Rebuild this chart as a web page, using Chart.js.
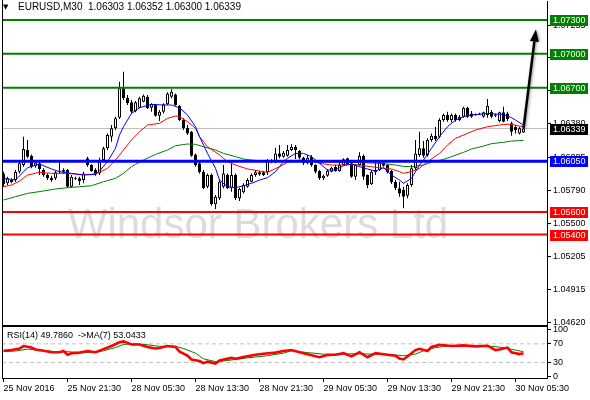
<!DOCTYPE html>
<html><head><meta charset="utf-8">
<script src="https://cdn.jsdelivr.net/npm/chart.js@4.4.1/dist/chart.umd.min.js"></script>
<style>
html,body{margin:0;padding:0;background:#fff;}
#wrap{position:relative;width:590px;height:400px;overflow:hidden;background:#fff;}
canvas{position:absolute;left:0;}
#main{top:0;}
#rsi{top:318px;}
</style></head><body>
<div id="wrap"><canvas id="main" width="590" height="326"></canvas><canvas id="rsi" width="590" height="82"></canvas></div>
<script>
// ---------------- DATA ----------------
const SYMBOL = 'EURUSD,M30';
const LAST_OHLC = ['1.06303', '1.06352', '1.06300', '1.06339'];
const OPEN = [1.05942,1.05854,1.05883,1.05883,1.05957,1.06016,1.06149,1.06099,1.06007,1.06031,1.05972,1.05927,1.05904,1.05898,1.05963,1.05957,1.05972,1.05824,1.05898,1.05898,1.05883,1.06075,1.06016,1.05972,1.05942,1.06060,1.06164,1.06267,1.06341,1.06435,1.06695,1.06612,1.06571,1.06494,1.06523,1.06577,1.06621,1.06523,1.06547,1.06453,1.06488,1.06553,1.06621,1.06641,1.06541,1.06414,1.06346,1.06311,1.06110,1.06031,1.05957,1.05824,1.05927,1.05668,1.05721,1.05824,1.05927,1.05810,1.05927,1.05721,1.05774,1.05824,1.05868,1.05927,1.05951,1.05951,1.05951,1.06051,1.06046,1.06119,1.06090,1.06099,1.06149,1.06178,1.06140,1.06081,1.06031,1.06090,1.06016,1.05963,1.05898,1.05922,1.05957,1.06001,1.05963,1.06016,1.06075,1.06031,1.05913,1.06016,1.06099,1.05927,1.05845,1.05951,1.05972,1.06040,1.06016,1.05963,1.05868,1.05810,1.05795,1.05745,1.05839,1.05987,1.06105,1.06164,1.06105,1.06237,1.06276,1.06267,1.06414,1.06459,1.06414,1.06459,1.06414,1.06444,1.06523,1.06473,1.06464,1.06464,1.06444,1.06459,1.06488,1.06459,1.06405,1.06482,1.06473,1.06385,1.06355,1.06296,1.06303];
const HIGH = [1.05957,1.05913,1.05898,1.05972,1.06046,1.06267,1.06237,1.06110,1.06060,1.06046,1.05987,1.05942,1.05922,1.05963,1.06054,1.05987,1.05981,1.05927,1.05913,1.05913,1.05957,1.06090,1.06022,1.05987,1.06081,1.06178,1.06296,1.06370,1.06444,1.06754,1.06842,1.06636,1.06591,1.06582,1.06621,1.06641,1.06636,1.06562,1.06553,1.06503,1.06562,1.06659,1.06686,1.06650,1.06547,1.06429,1.06370,1.06317,1.06119,1.06046,1.05972,1.05942,1.05942,1.05751,1.05883,1.06016,1.05942,1.06031,1.05942,1.05815,1.05854,1.05898,1.05942,1.05972,1.05963,1.05963,1.06069,1.06066,1.06169,1.06193,1.06140,1.06193,1.06199,1.06193,1.06149,1.06090,1.06105,1.06105,1.06022,1.05972,1.05933,1.05981,1.06001,1.06016,1.06046,1.06075,1.06081,1.06040,1.06022,1.06128,1.06110,1.05933,1.05972,1.06046,1.06051,1.06060,1.06022,1.05972,1.05883,1.05868,1.05824,1.05854,1.06016,1.06237,1.06311,1.06228,1.06252,1.06296,1.06355,1.06429,1.06473,1.06488,1.06473,1.06473,1.06459,1.06532,1.06532,1.06494,1.06473,1.06479,1.06488,1.06600,1.06503,1.06473,1.06488,1.06532,1.06488,1.06400,1.06370,1.06355,1.06352];
const LOW = [1.05824,1.05839,1.05854,1.05868,1.05942,1.06001,1.06075,1.05987,1.05992,1.05927,1.05913,1.05883,1.05868,1.05883,1.05942,1.05942,1.05815,1.05815,1.05883,1.05839,1.05854,1.06001,1.05957,1.05922,1.05927,1.06046,1.06149,1.06223,1.06326,1.06423,1.06591,1.06547,1.06473,1.06482,1.06518,1.06571,1.06512,1.06488,1.06444,1.06405,1.06473,1.06547,1.06606,1.06541,1.06405,1.06326,1.06282,1.06090,1.06001,1.05942,1.05804,1.05810,1.05656,1.05627,1.05706,1.05810,1.05804,1.05780,1.05706,1.05697,1.05765,1.05815,1.05863,1.05913,1.05922,1.05919,1.05927,1.06031,1.06031,1.06075,1.06081,1.06090,1.06140,1.06069,1.06069,1.06016,1.06022,1.06001,1.05942,1.05883,1.05883,1.05913,1.05951,1.05957,1.05957,1.06010,1.06016,1.05904,1.05883,1.06010,1.05883,1.05810,1.05839,1.05927,1.05963,1.06001,1.05942,1.05848,1.05795,1.05736,1.05633,1.05721,1.05824,1.05972,1.06090,1.06081,1.06090,1.06223,1.06228,1.06252,1.06400,1.06400,1.06394,1.06400,1.06405,1.06435,1.06435,1.06435,1.06453,1.06459,1.06435,1.06435,1.06429,1.06441,1.06394,1.06394,1.06405,1.06276,1.06296,1.06287,1.06300];
const CLOSE = [1.05845,1.05898,1.05863,1.05957,1.06031,1.06158,1.06090,1.06001,1.06037,1.05981,1.05927,1.05898,1.05883,1.05951,1.05957,1.05972,1.05824,1.05913,1.05895,1.05874,1.05942,1.06016,1.05963,1.05933,1.06060,1.06164,1.06282,1.06341,1.06429,1.06695,1.06606,1.06562,1.06488,1.06571,1.06606,1.06630,1.06518,1.06553,1.06453,1.06488,1.06553,1.06650,1.06665,1.06547,1.06414,1.06341,1.06296,1.06099,1.06016,1.05951,1.05810,1.05927,1.05668,1.05736,1.05868,1.05942,1.05810,1.05927,1.05721,1.05804,1.05839,1.05883,1.05927,1.05951,1.05933,1.05927,1.06060,1.06040,1.06119,1.06090,1.06125,1.06149,1.06178,1.06149,1.06081,1.06031,1.06081,1.06016,1.05957,1.05898,1.05922,1.05966,1.05992,1.05963,1.06016,1.06066,1.06022,1.05913,1.06016,1.06096,1.05913,1.05839,1.05957,1.05972,1.06040,1.06010,1.05951,1.05863,1.05810,1.05765,1.05736,1.05839,1.05987,1.06119,1.06164,1.06099,1.06237,1.06276,1.06246,1.06414,1.06459,1.06414,1.06459,1.06414,1.06444,1.06523,1.06444,1.06444,1.06461,1.06470,1.06482,1.06541,1.06444,1.06453,1.06482,1.06400,1.06423,1.06311,1.06326,1.06341,1.06339];

const MA_FAST_BARS = [0,3,6,9,12,14,17,20,23,24,26,28,29,30,32,34,37,40,42,44,46,48,49,51,53,54,56,58,60,62,64,66,68,70,71,73,75,77,79,81,83,85,87,89,91,93,95,97,99,100,102,104,105,107,109,111,113,115,117,119,121,123,125,127,128,130];
const MA_FAST = [1.05898,1.05883,1.05992,1.06025,1.05981,1.05957,1.05942,1.05927,1.05933,1.05963,1.06046,1.06164,1.06282,1.06355,1.06473,1.06523,1.06553,1.06547,1.06547,1.06523,1.06459,1.06355,1.06267,1.06119,1.05987,1.05883,1.05824,1.05815,1.05833,1.05854,1.05883,1.05904,1.05957,1.06046,1.06075,1.06119,1.06119,1.06090,1.06031,1.05972,1.05972,1.06010,1.06025,1.06001,1.05981,1.05963,1.05992,1.05927,1.05883,1.05854,1.05898,1.06016,1.06060,1.06164,1.06267,1.06355,1.06414,1.06444,1.06459,1.06464,1.06473,1.06467,1.06464,1.06435,1.06414,1.06370];
const MA_MID_BARS = [0,2,4,6,9,12,16,19,22,24,26,28,30,32,34,36,39,41,43,44,46,48,49,51,54,56,58,61,64,66,69,71,74,77,79,82,84,87,89,92,94,97,99,100,102,104,106,109,111,113,116,118,121,124,125,127,129,130];
const MA_MID = [1.05824,1.05839,1.05874,1.05927,1.05951,1.05942,1.05942,1.05933,1.05933,1.05951,1.05987,1.06060,1.06149,1.06237,1.06311,1.06370,1.06385,1.06429,1.06450,1.06444,1.06400,1.06341,1.06267,1.06178,1.06105,1.06046,1.06016,1.05981,1.05963,1.05951,1.06001,1.06040,1.06060,1.06054,1.06031,1.06016,1.06016,1.06022,1.06016,1.06001,1.05992,1.05981,1.05957,1.05942,1.05957,1.05987,1.06046,1.06119,1.06193,1.06252,1.06296,1.06326,1.06355,1.06370,1.06376,1.06376,1.06361,1.06355];
const MA_SLOW_BARS = [0,3,6,10,13,16,19,22,25,28,30,32,33,35,38,41,43,46,48,50,53,55,58,60,62,65,70,75,80,85,90,95,98,100,102,105,107,110,112,115,117,120,122,125,127,130];
const MA_SLOW = [1.05706,1.05736,1.05765,1.05786,1.05804,1.05815,1.05824,1.05833,1.05868,1.05898,1.05942,1.06001,1.06022,1.06060,1.06110,1.06149,1.06187,1.06202,1.06199,1.06178,1.06149,1.06119,1.06090,1.06069,1.06060,1.06051,1.06046,1.06046,1.06043,1.06040,1.06037,1.06028,1.06016,1.06004,1.06001,1.06016,1.06040,1.06066,1.06090,1.06128,1.06158,1.06184,1.06205,1.06217,1.06228,1.06234];

const RSI_BARS = [0,2,4,5,7,8,10,12,14,15,16,17,19,21,23,25,27,29,30,32,34,36,38,39,41,43,44,46,47,49,50,51,53,54,55,57,58,60,63,65,68,70,72,74,76,79,81,83,85,87,89,91,93,96,98,99,100,102,103,104,106,107,109,112,115,118,121,123,124,126,127,129,130];
const RSI = [55.3,56.7,60,65.3,62,58,55.3,52,52,54.7,46.7,50,51.3,54.7,52,58.7,65.3,73.3,75.3,68.7,68.7,63.3,60,61.3,65.3,63.3,53.3,44.7,36.7,33.3,28.7,32,28,34.7,36.7,40,38,42,46.7,48.7,51.3,54.7,56.7,52,48,41.3,46,46.7,50,43.3,52,41.3,50,46.7,44.7,38.7,36.7,50,56.7,59.3,54.7,63.3,68,65.3,66.7,64.7,66,56.7,58,62,52,48,49.8];
const RSI_MA_BARS = [0,3,6,9,13,16,19,23,25,28,30,33,36,39,43,45,48,50,53,55,58,61,66,70,72,74,76,80,84,88,93,97,100,103,105,108,112,115,118,122,125,128,130];
const RSI_MA = [53.3,54.7,58.7,56.7,53.3,53.3,51.3,51.3,55.3,62,68.7,70,68,64.7,64.7,60,50,38,32,33.3,36.7,40,44.7,50,55.3,53.3,51.3,48,48,48.7,48,46.7,44.7,48,55.3,62,66,66,65.3,64.7,62,56.7,53];

const LEVELS_GREEN = [1.07300, 1.07000, 1.06700];
const LEVELS_BLUE = [1.06050];
const LEVELS_RED = [1.05600, 1.05400];
const BID = 1.06339;
const PRICE_TICKS = [1.04620, 1.04915, 1.05205, 1.05500, 1.05790, 1.06085, 1.06380, 1.06675, 1.06965, 1.07255];
const PRICE_TICK_LABELS = ['1.04620','1.04915','1.05205','1.05500','1.05790','1.06085','1.06380','1.06675','1.06965','1.07255'];
const TIME_TICKS = [0, 16, 32, 48, 64, 80, 96, 112, 128];
const TIME_LABELS = ['25 Nov 2016','25 Nov 21:30','28 Nov 05:30','28 Nov 13:30','28 Nov 21:30','29 Nov 05:30','29 Nov 13:30','29 Nov 21:30','30 Nov 05:30'];
const RSI_TICKS = [0, 30, 70, 100];
const RSI_LEVELS = [30, 70];
const RSI_TITLE = 'RSI(14) 49.7860  ->MA(7) 53.0433';
const ARROW_FROM = [130, 1.06339];
const ARROW_TO = [133.1, 1.07215];
const WATERMARK = 'Windsor Brokers Ltd';

// ---------------- SETUP ----------------
const FONT = "'Liberation Sans', Arial, sans-serif";
Chart.defaults.font.family = FONT;
Chart.defaults.font.size = 9;
Chart.defaults.color = '#000';
const X_MIN = -0.375, X_MAX = 135.875;
const Y_MIN = 1.04600, Y_MAX = 1.04600 + 324 / 11298;

const bodyData = OPEN.map((o, i) => ({ x: i, y: [o, CLOSE[i]] }));
const wickData = OPEN.map((o, i) => ({ x: i, y: [LOW[i], HIGH[i]] }));
const pts = (xs, ys) => xs.map((x, i) => ({ x: x, y: ys[i] }));
const hline = v => [{ x: X_MIN, y: v }, { x: X_MAX, y: v }];
const lineDs = (data, color, width, order, dash) => ({
  type: 'line', data: data, borderColor: color, borderWidth: width, pointRadius: 0,
  tension: 0, fill: false, order: order, borderDash: dash || []
});

const levelDatasets = [];
LEVELS_GREEN.forEach(v => levelDatasets.push(lineDs(hline(v), '#008000', 2, 0)));
LEVELS_BLUE.forEach(v => levelDatasets.push(lineDs(hline(v), '#0000ff', 3, 0)));
LEVELS_RED.forEach(v => levelDatasets.push(lineDs(hline(v), '#ff0000', 2, 0)));

const mainPlugin = {
  id: 'mainDecor',
  beforeDatasetsDraw(chart) {
    const ctx = chart.ctx;
    ctx.save();
    ctx.font = "42px " + FONT;
    ctx.fillStyle = '#dcdcdc';
    ctx.textAlign = 'center';
    ctx.textBaseline = 'alphabetic';
    ctx.fillText(WATERMARK, 258, 238);
    ctx.restore();
  },
  afterDatasetsDraw(chart) {
    const ctx = chart.ctx, xs = chart.scales.x, ys = chart.scales.y;
    const x1 = xs.getPixelForValue(ARROW_FROM[0]), y1 = ys.getPixelForValue(ARROW_FROM[1]);
    const x2 = xs.getPixelForValue(ARROW_TO[0]), y2 = ys.getPixelForValue(ARROW_TO[1]);
    const ang = Math.atan2(y2 - y1, x2 - x1);
    const hl = 12, hw = 4.5;
    const bx = x2 - hl * Math.cos(ang), by = y2 - hl * Math.sin(ang);
    ctx.save();
    ctx.shadowColor = 'rgba(0,0,0,0.45)';
    ctx.shadowBlur = 3;
    ctx.shadowOffsetX = 1;
    ctx.strokeStyle = '#000';
    ctx.lineWidth = 2.5;
    ctx.beginPath(); ctx.moveTo(x1, y1); ctx.lineTo(bx, by); ctx.stroke();
    ctx.fillStyle = '#000';
    ctx.beginPath();
    ctx.moveTo(x2, y2);
    ctx.lineTo(bx + hw * Math.sin(ang), by - hw * Math.cos(ang));
    ctx.lineTo(bx - hw * Math.sin(ang), by + hw * Math.cos(ang));
    ctx.closePath(); ctx.fill();
    ctx.restore();
  },
  afterDraw(chart) {
    const ctx = chart.ctx, a = chart.chartArea, ys = chart.scales.y;
    ctx.save();
    ctx.strokeStyle = '#000'; ctx.lineWidth = 1;
    ctx.beginPath();
    ctx.moveTo(a.left + 0.5, 0); ctx.lineTo(a.left + 0.5, a.bottom + 1);
    ctx.moveTo(a.left, a.bottom + 0.5); ctx.lineTo(a.right + 1, a.bottom + 0.5);
    ctx.stroke();
    // level price boxes
    const boxes = [];
    LEVELS_GREEN.forEach(v => boxes.push([v, '#008000']));
    boxes.push([BID, '#000000']);
    LEVELS_BLUE.forEach(v => boxes.push([v, '#0000ff']));
    LEVELS_RED.forEach(v => boxes.push([v, '#ff0000']));
    ctx.font = "9px " + FONT;
    ctx.textBaseline = 'middle';
    ctx.textAlign = 'left';
    boxes.forEach(b => {
      const y = Math.round(ys.getPixelForValue(b[0]));
      ctx.fillStyle = b[1];
      ctx.fillRect(550, y - 5, 38, 11);
      ctx.fillStyle = '#fff';
      ctx.fillText(b[0].toFixed(5), 553, y + 0.5);
    });
    // header
    ctx.fillStyle = '#000';
    ctx.font = "7px 'DejaVu Sans', sans-serif";
    ctx.fillText('\u25BC', 3, 7);
    ctx.font = "10px " + FONT;
    ctx.fillText(SYMBOL + '  ' + LAST_OHLC.join(' '), 18, 7);
    ctx.restore();
  }
};

new Chart(document.getElementById('main'), {
  type: 'bar',
  data: {
    datasets: [
      ...levelDatasets,
      lineDs(pts(MA_FAST_BARS, MA_FAST), '#0000ff', 1, 1),
      lineDs(pts(MA_MID_BARS, MA_MID), '#ff0000', 1, 1),
      lineDs(pts(MA_SLOW_BARS, MA_SLOW), '#008000', 1, 1),
      { type: 'bar', data: bodyData, grouped: false, barThickness: 3, minBarLength: 1,
        backgroundColor: c => (CLOSE[c.dataIndex] >= OPEN[c.dataIndex] ? '#ffffff' : '#000000'),
        borderColor: '#000', borderWidth: 1, borderSkipped: false, inflateAmount: 0, order: 3 },
      { type: 'bar', data: wickData, grouped: false, barThickness: 1,
        backgroundColor: '#000', borderWidth: 0, inflateAmount: 0, order: 4 },
      lineDs(hline(BID), '#c0c0c0', 1, 5)
    ]
  },
  options: {
    responsive: false, animation: false, events: [],
    layout: { padding: { left: 2, top: 1, right: 0, bottom: 1 } },
    plugins: { legend: { display: false }, tooltip: { enabled: false } },
    scales: {
      x: { type: 'linear', min: X_MIN, max: X_MAX, display: false, offset: false, grid: { offset: false } },
      y: {
        type: 'linear', position: 'right', min: Y_MIN, max: Y_MAX,
        afterBuildTicks: s => { s.ticks = PRICE_TICKS.map(v => ({ value: v })); },
        afterFit: s => { s.width = 43; s.paddingTop = 0; s.paddingBottom = 0; },
        ticks: { autoSkip: false, padding: 2, callback: (v, i) => PRICE_TICK_LABELS[i], color: '#000' },
        grid: { drawOnChartArea: false, drawTicks: true, tickLength: 4, color: '#000' },
        border: { display: true, color: '#000' }
      }
    }
  },
  plugins: [mainPlugin]
});

const rsiPlugin = {
  id: 'rsiDecor',
  afterDraw(chart) {
    const ctx = chart.ctx, a = chart.chartArea;
    ctx.save();
    ctx.strokeStyle = '#000'; ctx.lineWidth = 1;
    ctx.beginPath();
    ctx.moveTo(a.left + 0.5, a.top - 1); ctx.lineTo(a.left + 0.5, a.bottom);
    ctx.moveTo(a.left, a.top - 0.5); ctx.lineTo(a.right + 1, a.top - 0.5);
    ctx.stroke();
    ctx.fillStyle = '#000';
    ctx.font = "9px " + FONT;
    ctx.textBaseline = 'middle';
    ctx.textAlign = 'left';
    ctx.fillText(RSI_TITLE, 7, a.top + 9);
    ctx.restore();
  }
};

new Chart(document.getElementById('rsi'), {
  type: 'line',
  data: {
    datasets: [
      ...RSI_LEVELS.map(v => lineDs(hline(v), '#c0c0c0', 1, 2, [4, 3])),
      lineDs(pts(RSI_MA_BARS, RSI_MA), '#008000', 1, 1),
      lineDs(pts(RSI_BARS, RSI), '#ff0000', 2.6, 0)
    ]
  },
  options: {
    responsive: false, animation: false, events: [],
    layout: { padding: { left: 2, top: 9, right: 0, bottom: 0 } },
    plugins: { legend: { display: false }, tooltip: { enabled: false } },
    scales: {
      x: {
        type: 'linear', position: 'bottom', min: X_MIN, max: X_MAX, offset: false,
        afterBuildTicks: s => { s.ticks = TIME_TICKS.map(v => ({ value: v })); },
        afterFit: s => { s.height = 22; s.paddingLeft = 0; s.paddingRight = 0; },
        ticks: { autoSkip: false, maxRotation: 0, minRotation: 0, align: 'start', padding: 1,
                 callback: (v, i) => TIME_LABELS[i], color: '#000' },
        grid: { drawOnChartArea: false, drawTicks: true, tickLength: 4, color: '#000' },
        border: { display: true, color: '#000' }
      },
      y: {
        type: 'linear', position: 'right', min: -3, max: 106,
        afterBuildTicks: s => { s.ticks = RSI_TICKS.map(v => ({ value: v })); },
        afterFit: s => { s.width = 43; s.paddingTop = 0; s.paddingBottom = 0; },
        ticks: { autoSkip: false, padding: 2, callback: v => String(v), color: '#000' },
        grid: { drawOnChartArea: false, drawTicks: true, tickLength: 4, color: '#000' },
        border: { display: true, color: '#000' }
      }
    }
  },
  plugins: [rsiPlugin]
});
</script>
</body></html>
